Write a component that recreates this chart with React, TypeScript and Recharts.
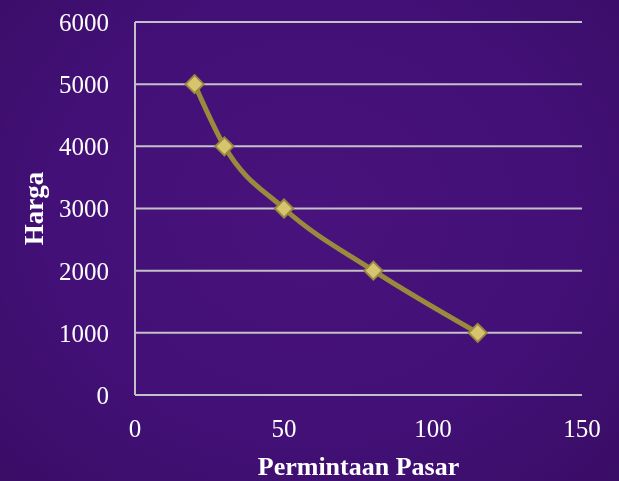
import React from "react";
import { LineChart, Line, XAxis, YAxis, CartesianGrid, Label } from "recharts";

const permintaan = [20, 30, 50, 80, 115];
const harga = [5000, 4000, 3000, 2000, 1000];
const xTicks = [0, 50, 100, 150];
const yTicks = [0, 1000, 2000, 3000, 4000, 5000, 6000];

const data = permintaan.map((p, i) => ({ x: p, y: harga[i] }));

const FONT = "'Liberation Serif', serif";

const Diamond = (props: any) => {
  const { cx, cy } = props;
  if (cx == null || cy == null) return null;
  const r = 9;
  return (
    <path
      d={`M${cx},${cy - r} L${cx + r},${cy} L${cx},${cy + r} L${cx - r},${cy} Z`}
      fill="#d6c46e"
      stroke="#9a8a3e"
      strokeWidth={2}
    />
  );
};

export default function App() {
  return (
    <div
      style={{
        position: "fixed",
        left: 0,
        top: 0,
        width: 619,
        height: 481,
        background: "radial-gradient(ellipse at 50% 45%, #48137c 0%, #421076 60%, #3a0d66 100%)",
      }}
    >
      <LineChart
        width={619}
        height={481}
        data={data}
        margin={{ top: 22, right: 37, bottom: 0, left: 0 }}
      >
        <CartesianGrid vertical={false} stroke="#c4c0c8" strokeWidth={2} />
        <XAxis
          dataKey="x"
          type="number"
          domain={[0, 150]}
          ticks={xTicks}
          height={86}
          tickLine={false}
          tickSize={0}
          tickMargin={24}
          axisLine={{ stroke: "#c4c0c8", strokeWidth: 2 }}
          tick={{ fill: "#ffffff", fontSize: 25, fontFamily: FONT }}
        >
          <Label
            value="Permintaan Pasar"
            position="insideBottom"
            offset={6}
            fill="#ffffff"
            fontSize={26}
            fontWeight="bold"
            fontFamily={FONT}
          />
        </XAxis>
        <YAxis
          type="number"
          domain={[0, 6000]}
          ticks={yTicks}
          width={135}
          tickLine={false}
          tickSize={0}
          tickMargin={26}
          axisLine={{ stroke: "#c4c0c8", strokeWidth: 2 }}
          tick={{ fill: "#ffffff", fontSize: 25, fontFamily: FONT }}
        >
          <Label
            value="Harga"
            angle={-90}
            position="insideLeft"
            offset={33}
            fill="#ffffff"
            fontSize={27}
            fontWeight="bold"
            fontFamily={FONT}
            style={{ textAnchor: "middle" }}
          />
        </YAxis>
        <Line
          type="monotone"
          dataKey="y"
          stroke="#9a8a3e"
          strokeWidth={5}
          dot={<Diamond />}
          activeDot={false}
          isAnimationActive={false}
        />
      </LineChart>
    </div>
  );
}
